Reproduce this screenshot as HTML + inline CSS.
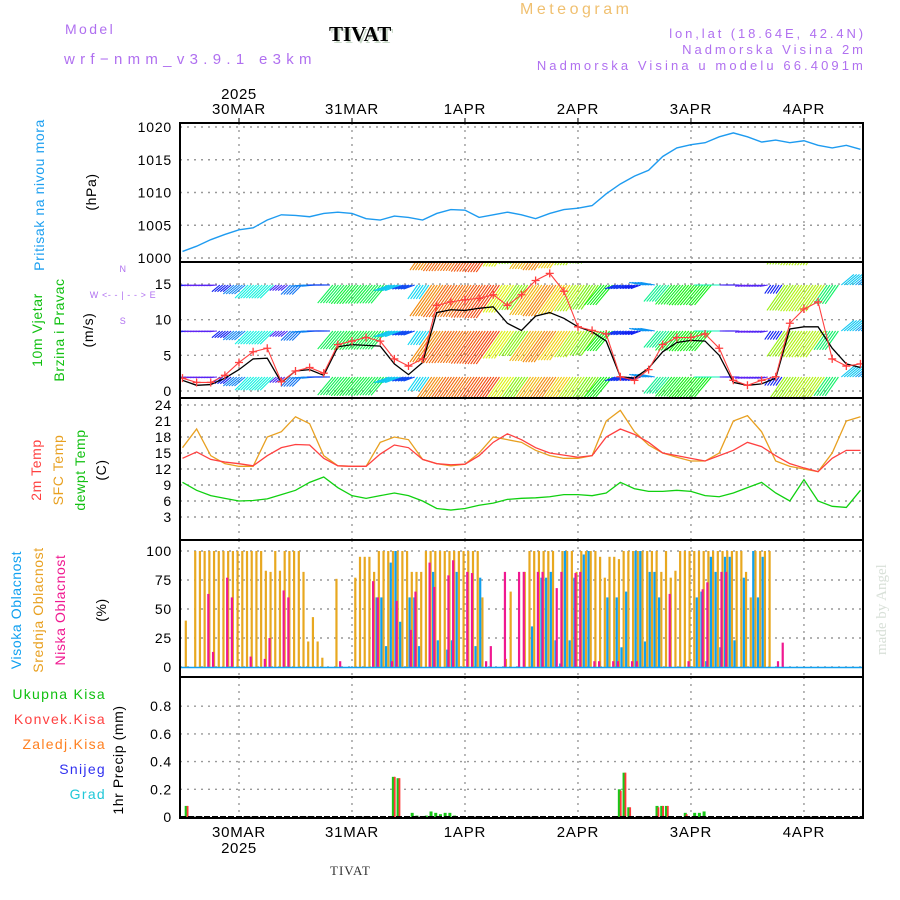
<!DOCTYPE html>
<html><head><meta charset="utf-8"><style>
html,body{margin:0;padding:0;background:#fff;}
svg{display:block;font-family:"Liberation Sans",sans-serif;}
</style></head><body>
<svg id="chart" width="900" height="900" viewBox="0 0 900 900">
<rect width="900" height="900" fill="#fff"/>
<g>
<text x="65" y="34" fill="#b070f0" font-size="14" letter-spacing="2.4">Model</text>
<text x="64" y="64" fill="#b070f0" font-size="15" letter-spacing="5.3">wrf−nmm_v3.9.1 e3km</text>
<text x="331" y="43" fill="#c8d8c8" font-size="21" font-weight="bold" font-family="Liberation Serif,serif">TIVAT</text>
<text x="329" y="41" fill="#000" font-size="21" font-weight="bold" font-family="Liberation Serif,serif">TIVAT</text>
<text x="520" y="14" fill="#f0c070" font-size="16" letter-spacing="3.5">Meteogram</text>
<text x="866" y="38" fill="#b070f0" font-size="13" letter-spacing="2.9" text-anchor="end">lon,lat (18.64E, 42.4N)</text>
<text x="866" y="54" fill="#b070f0" font-size="13" letter-spacing="3.0" text-anchor="end">Nadmorska Visina 2m</text>
<text x="866" y="70" fill="#b070f0" font-size="13" letter-spacing="3.1" text-anchor="end">Nadmorska Visina u modelu 66.4091m</text>
</g>
<g id="grid"></g>
<g id="marks"></g>
<g id="frames"></g>
<g id="labels"></g>
<text x="0" y="0" transform="translate(886,655) rotate(-90)" fill="#d8e0d8" font-size="15" font-family="Liberation Serif,serif">made by Angel</text>
<text x="330" y="875" fill="#333" font-size="13" font-family="Liberation Serif,serif" letter-spacing="1">TIVAT</text>
</svg>
<script>
// ===== data (3-hourly from 29MAR 12Z) =====
const dayLabels = ["30MAR","31MAR","1APR","2APR","3APR","4APR"];
const dayHours = [12,36,60,84,108,132];
const pressure = [1001,1001.8,1002.8,1003.6,1004.3,1004.6,1005.8,1006.6,1006.5,1006.3,1006.8,1007.0,1006.8,1006.0,1005.8,1006.4,1006.2,1005.8,1006.8,1007.4,1007.3,1006.2,1006.6,1007.0,1006.6,1006.0,1006.8,1007.4,1007.6,1008.0,1009.8,1011.3,1012.5,1013.4,1015.5,1016.8,1017.3,1017.6,1018.5,1019.1,1018.5,1017.7,1018.0,1017.6,1017.9,1017.2,1016.8,1017.2,1016.6];
const windSpeed = [1.5,0.8,0.9,1.8,3.0,4.5,4.6,1.2,2.8,3.0,2.2,6.2,6.5,6.4,6.3,3.8,2.3,4.0,11.0,11.4,11.3,11.6,11.8,9.5,8.5,10.5,11.0,10.2,9.0,8.3,7.0,2.0,1.8,3.2,5.5,6.8,7.1,7.0,5.0,1.2,0.8,1.0,1.8,8.7,9.0,9.0,6.0,3.8,3.3];
const windGust = [1.8,1.2,1.2,2.2,4.0,5.5,6.0,1.3,2.8,3.3,2.5,6.5,7.0,7.5,7.0,4.5,3.5,4.5,12.0,12.5,12.8,13.0,13.5,12.0,13.5,15.5,16.5,14.0,9.0,8.5,8.0,2.0,1.5,3.0,6.5,7.5,7.5,8.0,6.0,1.5,0.8,1.5,2.0,9.5,11.5,12.5,4.5,3.5,3.8];
const windDir = [185,185,185,220,220,225,225,220,225,185,180,230,230,230,230,200,200,235,235,235,235,235,235,235,235,235,235,235,235,235,230,200,200,170,230,230,230,230,180,180,190,190,235,235,235,235,235,40,40];
const temp2m = [14,15.2,13.8,13.3,13.0,12.6,14.5,16.0,16.6,16.5,14.0,12.6,12.5,12.5,14.8,16.5,16.0,13.8,13.0,12.8,12.9,14.5,17.0,18.6,17.5,16.0,15.0,14.6,14.2,14.5,18.0,19.5,18.5,17.0,15.0,14.5,14.0,13.5,14.5,15.5,17.0,16.2,14.5,13.0,12.2,11.5,14.0,15.5,15.5];
const tempSfc = [16,19.5,14.5,13.0,12.5,12.5,18.0,19.0,21.8,20.5,14.5,12.6,12.5,12.5,17.0,18.0,17.5,13.8,13.0,12.6,12.9,15.0,18.0,17.5,17.0,15.5,14.5,14.0,14.0,14.5,21.0,23.0,19.0,16.5,15.0,14.2,13.5,13.5,15.0,21.0,22.0,19.0,13.5,12.5,12.0,11.5,15.0,21.0,21.8];
const dewpt = [9.5,8.0,7.0,6.5,6.0,6.1,6.4,7.2,8.0,9.5,10.5,8.5,7.0,6.5,7.0,7.5,7.0,6.0,4.6,4.3,4.6,5.2,5.6,6.3,6.5,6.6,6.8,7.2,7.2,7.0,7.5,9.5,8.3,7.8,7.8,8.0,7.8,7.0,6.8,7.5,8.5,9.5,7.5,6.0,10.0,6.0,5.0,4.8,8.0];
// hourly cloud cover (t = 0..144)
const cloudMid = [0,40,0,100,100,100,100,100,100,100,100,100,100,100,100,100,100,100,83,82,100,83,100,100,100,100,82,22,43,22,8,0,0,76,0,0,0,77,95,95,95,82,100,100,100,100,100,100,100,82,82,82,100,100,100,100,100,100,100,100,100,100,100,100,60,0,0,0,0,7,65,0,0,82,100,100,100,100,100,100,0,100,100,100,82,100,100,100,100,95,77,95,95,93,100,100,100,100,100,100,100,100,82,100,77,83,100,100,100,100,100,100,100,100,100,100,100,100,100,100,82,60,100,100,100,100,0,0,0,0,0,0,0,0,0,0,0,0,0,0,0,0,0,0,0];
const cloudHigh = [0,0,0,0,0,0,0,0,0,0,0,0,0,0,0,0,0,0,0,0,0,0,0,0,0,0,0,0,0,0,0,0,0,0,0,0,0,0,0,0,0,60,60,18,90,100,39,0,60,60,18,0,0,82,23,0,15,23,82,0,0,0,18,77,0,0,0,0,0,0,0,0,0,0,35,0,77,77,82,23,3,100,23,77,0,97,100,0,0,0,60,0,60,17,65,0,100,100,22,82,82,60,0,0,0,0,0,0,0,60,65,5,95,82,17,95,95,23,0,77,0,100,60,95,0,0,0,0,0,0,0,0,0,0,0,0,0,0,0,0,0,0,0];
const cloudLow = [0,0,0,0,0,63,13,0,0,77,60,0,0,0,9,0,0,7,25,0,0,66,60,0,0,0,0,0,0,0,0,0,0,5,0,0,0,0,0,0,74,60,0,0,5,57,0,0,32,65,0,0,90,69,0,0,79,92,0,0,82,81,0,0,5,18,0,0,82,0,0,82,82,0,0,82,82,0,0,68,82,0,0,81,82,0,0,5,5,0,0,5,5,0,0,5,5,0,0,0,0,0,0,63,0,0,0,5,0,0,67,73,0,0,82,82,0,0,0,0,0,0,0,0,0,0,5,21,0,0,0,0,0,0,0,0,0,0,0,0,0,0,0,0,0];
// hourly precipitation events
const precipHour = [1,45,46,49,50,52,53,54,55,56,57,58,93,94,95,101,102,103,107,109,110,111];
const precipTotal = [0.08,0.29,0.28,0.03,0.01,0.01,0.04,0.03,0.02,0.03,0.03,0.01,0.20,0.32,0.07,0.08,0.08,0.08,0.03,0.03,0.03,0.04];
const precipConv = [0.08,0.29,0.28,0,0,0,0,0,0,0,0,0,0.19,0.32,0.07,0.07,0.08,0.08,0.02,0,0,0];
const pTicks=[1000,1005,1010,1015,1020], wTicks=[0,5,10,15], tTicks=[3,6,9,12,15,18,21,24], cTicks=[0,25,50,75,100], rTicks=["0","0.2","0.4","0.6","0.8"];

// ===== axes =====
const X0=180, X1=863;
const x = t => 182.5 + t*4.708;
const yP = v => 258 - (v-1000)*6.55;
const yW = v => 391 - v*7.13;
const yT = v => 517 - (v-3)*5.333;
const yC = v => 667 - v*1.16;
const yR = v => 817 - v*138.5;
const NS="http://www.w3.org/2000/svg";
function mk(tag, attrs, parent){const e=document.createElementNS(NS,tag);for(const k in attrs)e.setAttribute(k,attrs[k]);parent.appendChild(e);return e;}
const grid=document.getElementById('grid'), marks=document.getElementById('marks'), frames=document.getElementById('frames'), labels=document.getElementById('labels');
const panels=[[123,262],[262,398],[398,540],[540,677],[677,818]];

dayHours.forEach(h=>{
  panels.forEach(([a,b])=>{const l=mk('line',{x1:x(h),x2:x(h),y1:a,y2:b,stroke:'#999','stroke-dasharray':'2,5','stroke-width':1.4},grid);
  
  });
});
function hgrid(ticks, yf, fmt, name){
  ticks.forEach(v=>{const yy=yf(+v);
    const l=mk('line',{x1:X0,x2:X1,y1:yy,y2:yy,stroke:'#999','stroke-dasharray':'2,5','stroke-width':1.4},grid);
    
    
    const t=mk('text',{x:172,y:yy+5,'text-anchor':'end','font-size':14,fill:'#000','letter-spacing':0.8},labels);
    t.textContent=fmt?fmt(v):v;
    
    
  });
}
hgrid(pTicks,yP,null,'pressure');hgrid(wTicks,yW,null,'wind');hgrid(tTicks,yT,null,'temp');hgrid(cTicks,yC,null,'cloud');hgrid(rTicks,yR,null,'precip');

const defs=mk('defs',{},marks);
const cp=mk('clipPath',{id:'wclip'},defs);mk('rect',{x:X0,y:263,width:X1-X0,height:134},cp);
const cp2=mk('clipPath',{id:'aclip'},defs);mk('rect',{x:X0,y:123,width:X1-X0,height:695},cp2);
marks.setAttribute('clip-path','url(#aclip)');

function poly(arr, xf, yf, color, name, w){
  const pts=arr.map((v,i)=>xf(i)+','+yf(v)).join(' ');
  const p=mk('polyline',{points:pts,fill:'none',stroke:color,'stroke-width':w||1.3},marks);
  
  
  return p;
}
poly(pressure,i=>x(i*3),yP,'#1e9bf0','pressure-line',1.4);

const wg=mk('g',{'clip-path':'url(#wclip)'},marks);


const rows=[377,331,285,239];
windSpeed.forEach((s,i)=>{
  const hue=Math.max(0,275-s*275/12.5);
  const col='hsl('+hue+',90%,'+(hue>240?55:50)+'%)';
  const L=3*s+5, a=windDir[i]*Math.PI/180;
  const dx=Math.cos(a)*L, dy=-Math.sin(a)*L;
  rows.forEach(r=>{
    for(let k=0;k<5;k++){
      const x1=x(i*3)+k*2.8-5;
      const ln=mk('line',{x1:x1,y1:r,x2:x1+dx,y2:r+dy,stroke:col,'stroke-width':1.1},wg);
      
      
    }
  });
});
poly(windSpeed,i=>x(i*3),yW,'#000','wind-speed-line',1.3);
poly(windGust,i=>x(i*3),yW,'#ff4040','wind-gust-line',1.1);
windGust.forEach((v,i)=>{
  const cx=x(i*3), cy=yW(v);
  const pm=mk('path',{d:`M${cx-4},${cy}h8M${cx},${cy-4}v8`,stroke:'#ff4040','stroke-width':1.3},marks);
  
  
});

poly(dewpt,i=>x(i*3),yT,'#10d010','dewpoint-line',1.3);
poly(tempSfc,i=>x(i*3),yT,'#e8a020','sfc-temp-line',1.3);
poly(temp2m,i=>x(i*3),yT,'#ff4040','temp-2m-line',1.3);

function cbars(arr,color,off,name){
  arr.forEach((v,i)=>{ if(v<=0) return;
    const r=mk('rect',{x:x(i)+off,y:yC(v),width:2.2,height:yC(0)-yC(v),fill:color},marks);
    
    
  });
}
cbars(cloudMid,'#e8a820',-2.5,'mid-cloud-bar');
cbars(cloudHigh,'#10a0f0',0,'high-cloud-bar');
cbars(cloudLow,'#f01890',1.2,'low-cloud-bar');
const cb=mk('line',{x1:X0,x2:X1,y1:yC(0)+0.5,y2:yC(0)+0.5,stroke:'#10a0f0','stroke-width':1.5},marks);



precipHour.forEach((h,i)=>{
  const g=mk('rect',{x:x(h)-2.5,y:yR(precipTotal[i]),width:3,height:yR(0)-yR(precipTotal[i]),fill:'#18c818'},marks);
  
  
  if(precipConv[i]>0){
    const r=mk('rect',{x:x(h)-0.5,y:yR(precipConv[i]),width:1.8,height:yR(0)-yR(precipConv[i]),fill:'#ff3838'},marks);
    
    
  }
});
const pb=mk('line',{x1:X0,x2:X1,y1:817,y2:817,stroke:'#000','stroke-width':2,'stroke-dasharray':'6,2'},marks);



const fr=mk('rect',{x:X0,y:123,width:X1-X0,height:695,fill:'none',stroke:'#000','stroke-width':2},frames);


[262,398,540,677].forEach(yy=>{const l=mk('line',{x1:X0,x2:X1,y1:yy,y2:yy,stroke:'#000','stroke-width':2},frames);
  
  });
dayHours.forEach((h,i)=>{
  const t1=mk('line',{x1:x(h),x2:x(h),y1:118,y2:123,stroke:'#000'},frames);
  
  
  const tx=mk('text',{x:x(h),y:114,'text-anchor':'middle','font-size':15,'letter-spacing':0.8},labels);
  tx.textContent=dayLabels[i];
  
  
  const tb=mk('text',{x:x(h),y:837,'text-anchor':'middle','font-size':15,'letter-spacing':0.8},labels);
  tb.textContent=dayLabels[i];
  
  
});
function lab(txt,xx,yy,color,name,size,rot,anchor,ls){
  const t=mk('text',{x:0,y:0,fill:color,'font-size':size||14,'text-anchor':anchor||'middle','letter-spacing':ls||0.6,transform:rot?`translate(${xx},${yy}) rotate(-90)`:`translate(${xx},${yy})`},labels);
  t.textContent=txt;
  
  
}
lab('2025',239,99,'#000','top-year-label',15);
lab('2025',239,853,'#000','bottom-year-label',15);
lab('Pritisak na nivou mora',44,195,'#1ea0f0','pressure-axis-title',14,1);
lab('(hPa)',96,192,'#000','pressure-unit',14,1);
lab('10m Vjetar',42,330,'#10c010','wind-axis-title',14,1);
lab('Brzina i Pravac',64,330,'#10c010','wind-axis-subtitle',14,1);
lab('(m/s)',93,330,'#000','wind-unit',14,1);
lab('N',123,272,'#b070f0','compass-n',9);
lab('W <- - | - - > E',123,298,'#b070f0','compass-we',9);
lab('S',123,324,'#b070f0','compass-s',9);
lab('2m Temp',41,470,'#ff4040','temp-2m-title',14,1);
lab('SFC Temp',63,470,'#e8a020','sfc-temp-title',14,1);
lab('dewpt Temp',85,470,'#10c010','dewpt-title',14,1);
lab('(C)',106,470,'#000','temp-unit',14,1);
lab('Visoka Oblacnost',21,610,'#10a0f0','high-cloud-title',14,1);
lab('Srednja Oblacnost',43,610,'#e8a020','mid-cloud-title',14,1);
lab('Niska Oblacnost',65,610,'#f01890','low-cloud-title',14,1);
lab('(%)',106,610,'#000','cloud-unit',14,1);
lab('Ukupna Kisa',106,699,'#10c010','legend-total-rain',14,0,'end',1.3);
lab('Konvek.Kisa',106,724,'#ff4040','legend-convective-rain',14,0,'end',1.3);
lab('Zaledj.Kisa',106,749,'#ff8020','legend-freezing-rain',14,0,'end',1.3);
lab('Snijeg',106,774,'#3030f0','legend-snow',14,0,'end',1.3);
lab('Grad',106,799,'#20c8d8','legend-hail',14,0,'end',1.3);
lab('1hr Precip (mm)',123,760,'#000','precip-axis-title',14,1);
</script>
</body></html>
